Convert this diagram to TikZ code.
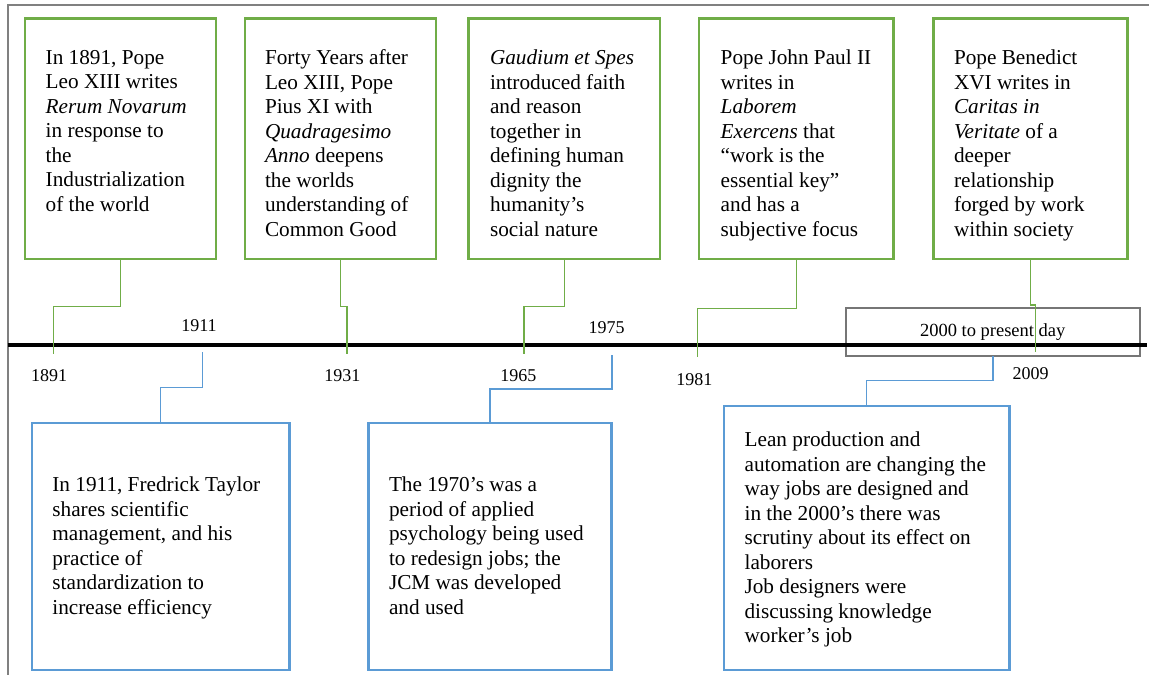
\documentclass[tikz,border=0pt]{standalone}
\usepackage{fontspec}
\setmainfont{Liberation Serif}
\definecolor{boxgreen}{HTML}{70AD47}
\definecolor{boxblue}{HTML}{5B9BD5}
\definecolor{framegrey}{HTML}{808080}
\definecolor{periodgrey}{HTML}{767676}
\begin{document}
\begin{tikzpicture}[x=1bp,y=-1bp,
  gbox/.style={draw=boxgreen, line width=2.6bp, inner sep=0, outer sep=0, anchor=north west},
  bbox/.style={draw=boxblue, line width=2.6bp, inner sep=0, outer sep=0, anchor=north west},
  pbox/.style={draw=periodgrey, line width=2.2bp, inner sep=0, outer sep=0, anchor=north west},
  boxtext/.style={font=\fontsize{21.25bp}{24.5bp}\selectfont, align=left, inner sep=0, outer sep=0, anchor=north west},
  yr/.style={font=\fontsize{18bp}{20bp}\selectfont, inner sep=0, outer sep=0},
  gconn/.style={draw=boxgreen, line width=1.1bp},
  bconn/.style={draw=boxblue, line width=1.1bp},
  timeline/.style={draw=black, line width=3.6bp},
  frameline/.style={draw=framegrey, line width=1.6bp}
]
\useasboundingbox (0,0) rectangle (1149,675);

% frame
\coordinate (f0) at (7.7,675);
\coordinate (f1) at (7.7,5);
\coordinate (f2) at (1149,5);
\draw[frameline] (f0) -- (f1) -- (f2);

% green boxes
\node[gbox, minimum width=191bp, minimum height=240.7bp] (g1) at (25,18.3) {};
\node[gbox, minimum width=191bp, minimum height=240.7bp] (g2) at (245,18.3) {};
\node[gbox, minimum width=191.7bp, minimum height=240.7bp] (g3) at (468.3,18.3) {};
\node[gbox, minimum width=194.3bp, minimum height=240.7bp] (g4) at (699,18.3) {};
\node[gbox, minimum width=194.4bp, minimum height=240.7bp] (g5) at (933.3,18.3) {};

\node[boxtext] (g1t) at (45.7,50) {In 1891, Pope\\Leo XIII writes\\\textit{Rerum Novarum}\\in response to\\the\\Industrialization\\of the world};
\node[boxtext] (g2t) at (265,50) {Forty Years after\\Leo XIII, Pope\\Pius XI with\\\textit{Quadragesimo}\\\textit{Anno} deepens\\the worlds\\understanding of\\Common Good};
\node[boxtext] (g3t) at (490,50) {\textit{Gaudium et Spes}\\introduced faith\\and reason\\together in\\defining human\\dignity the\\humanity’s\\social nature};
\node[boxtext] (g4t) at (720.7,50) {Pope John Paul II\\writes in\\\textit{Laborem}\\\textit{Exercens} that\\“work is the\\essential key”\\and has a\\subjective focus};
\node[boxtext] (g5t) at (954,50) {Pope Benedict\\XVI writes in\\\textit{Caritas in}\\\textit{Veritate} of a\\deeper\\relationship\\forged by work\\within society};

% period box
\node[pbox, minimum width=294.6bp, minimum height=47.4bp] (pb) at (845.7,308.3) {};
\node[font=\fontsize{18.5bp}{21bp}\selectfont, inner sep=0, anchor=base] (pbt) at (992.7,336) {2000 to present day};

% timeline
\coordinate (tl0) at (7.7,345);
\coordinate (tl1) at (1146.7,345);
\draw[timeline] (tl0) -- (tl1);

% year labels
\node[yr] (y1891) at (49,376) {1891};
\node[yr] (y1911) at (199,326) {1911};
\node[yr] (y1931) at (342.3,376) {1931};
\node[yr] (y1965) at (518.3,376) {1965};
\node[yr] (y1975) at (606.7,328) {1975};
\node[yr] (y1981) at (694.3,379.3) {1981};
\node[yr] (y2009) at (1030.7,373.3) {2009};

% blue boxes
\node[bbox, minimum width=257.3bp, minimum height=247bp] (b1) at (32,423) {};
\node[bbox, minimum width=242.6bp, minimum height=247bp] (b2) at (368.7,423) {};
\node[bbox, minimum width=285.3bp, minimum height=264bp] (b3) at (724,406) {};

\node[boxtext] (b1t) at (52.4,477) {In 1911, Fredrick Taylor\\shares scientific\\management, and his\\practice of\\standardization to\\increase efficiency};
\node[boxtext] (b2t) at (389,477) {The 1970’s was a\\period of applied\\psychology being used\\to redesign jobs; the\\JCM was developed\\and used};
\node[boxtext] (b3t) at (744.6,432) {Lean production and\\automation are changing the\\way jobs are designed and\\in the 2000’s there was\\scrutiny about its effect on\\laborers\\Job designers were\\discussing knowledge\\worker’s job};

% green connectors
\coordinate (k1) at (53.3,306.7);   \coordinate (c1891) at (53.3,354.3);
\coordinate (k2) at (347,306.7);    \coordinate (c1931) at (347,354.3);
\coordinate (k3) at (524,306.7);    \coordinate (c1965) at (524,354.3);
\coordinate (k4) at (697.7,308.3);  \coordinate (c1981) at (697.7,357.3);
\coordinate (k5) at (1035.7,305);   \coordinate (c2009) at (1035.7,351.7);
\draw[gconn] (g1.south) |- (k1) -- (c1891);
\draw[gconn] (g2.south) |- (k2) -- (c1931);
\draw[gconn] (g3.south) |- (k3) -- (c1965);
\draw[gconn] (g4.south) |- (k4) -- (c1981);
\draw[gconn] (g5.south) |- (k5) -- (c2009);

% blue connectors
\coordinate (t1911) at (202.7,352);
\coordinate (t1975) at (612,355);
\draw[bconn] (t1911) -- ++(0,35.7) -| (b1.north);
\draw[bconn] (t1975) -- ++(0,34) -| (b2.north);
\draw[bconn] (pb.south) -- ++(0,25) -| (b3.north);
\end{tikzpicture}
\end{document}
